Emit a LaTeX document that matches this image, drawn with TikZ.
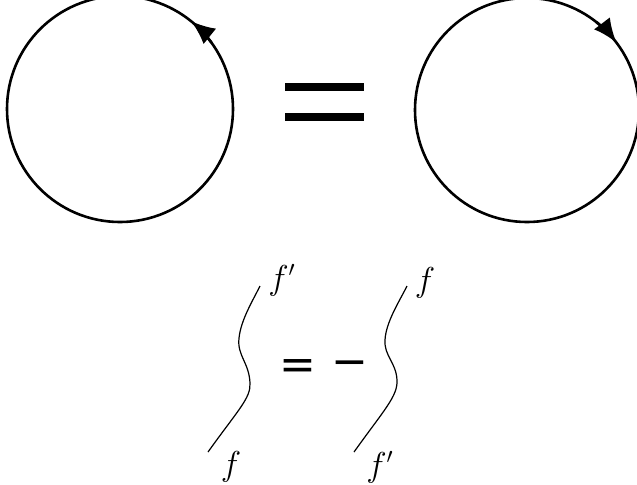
\documentclass[tikz,border=0pt]{standalone}
\usepackage{fontspec}
\newfontfamily\eqfont{DejaVu Sans}
\usetikzlibrary{arrows.meta,calc}

\begin{document}
\begin{tikzpicture}[x=0.5pt,y=-0.5pt,>={Latex[length=12pt,width=10pt]},every node/.style={font=\fontsize{16}{19}\selectfont,inner sep=0pt}]
\useasboundingbox (0,0) rectangle (637,484);
% the two loops
\coordinate (lc) at (120,109);
\coordinate (rc) at (527,110);
\draw[line width=1.3pt] (lc) circle[radius=113];
\draw[line width=1.3pt] (rc) circle[radius=112];
\draw[line width=1.3pt,->] ($(lc)+(-36:113)$) arc[start angle=-36,end angle=-51,radius=113];
\draw[line width=1.3pt,->] ($(rc)+(-52:112)$) arc[start angle=-52,end angle=-37,radius=112];
\fill (285,83) rectangle (364,91);
\fill (285,113) rectangle (364,121);
% the two strands
\coordinate (a1) at (208,452);
\coordinate (a2) at (260,286);
\coordinate (b1) at (354,452);
\coordinate (b2) at (407,286);
\node (fa2) at (282,280) {$f'$};
\node (fa1) at (231,467) {$f$};
\node (fb2) at (425,283) {$f$};
\node (fb1) at (380,467) {$f'$};
\draw[line width=0.6pt] (a1) .. controls (238,410) and (251,398) .. (250,383) .. controls (249,362) and (237,356) .. (239,338) .. controls (241,320) and (252,302) .. (a2);
\draw[line width=0.6pt] (b1) .. controls (384,410) and (398,396) .. (397,380) .. controls (396,362) and (384,356) .. (385,340) .. controls (386,322) and (399,302) .. (b2);
\node[font=\eqfont\fontsize{22}{26}\selectfont] (eq) at (297.5,369.5) {=};
\node[font=\eqfont\fontsize{22}{26}\selectfont] (mi) at (350,368.5) {−};
\end{tikzpicture}
\end{document}
